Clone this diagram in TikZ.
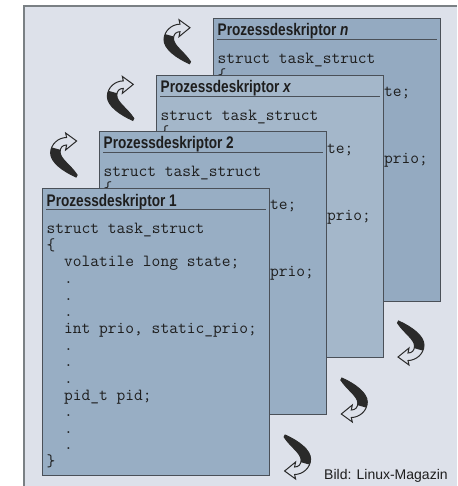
\documentclass[tikz,border=0pt]{standalone}
\usepackage{fontspec}
\usepackage{graphicx}
\usetikzlibrary{calc}
\newfontfamily\titlefont{Liberation Sans}
\newfontfamily\capfont{Liberation Sans}
\definecolor{bgc}{HTML}{DDE1EA}
\definecolor{framec}{HTML}{7A8084}
\definecolor{boxA}{HTML}{98AEC4}
\definecolor{boxB}{HTML}{98AEC4}
\definecolor{boxX}{HTML}{A4B7CA}
\definecolor{boxN}{HTML}{94AAC1}
\definecolor{boxborder}{HTML}{4A5058}
\definecolor{textdark}{HTML}{1E1E1E}
\definecolor{arrowdark}{HTML}{2A2A2A}
\tikzset{
  descbox/.style={draw=boxborder, line width=0.9pt, minimum width=226.5pt, inner sep=0pt, anchor=north west},
  titletext/.style={inner sep=0pt, anchor=base west, text=textdark, font=\titlefont\bfseries\fontsize{16.8}{18}\selectfont},
  titleline/.style={draw=boxborder, line width=0.9pt},
  codetext/.style={inner sep=0pt, anchor=base west, text=textdark, font=\ttfamily\fontsize{17}{17}\selectfont\frenchspacing},
  captext/.style={inner sep=0pt, anchor=base west, text=textdark, font=\capfont\fontsize{14}{16}\selectfont},
  turnarrow/.pic={
    \begin{scope}
      \clip (0,0) -- (-11,-8) -- (-10,-3.5) .. controls (-18,-3.5) and (-26,3) .. (-26,12)
        .. controls (-26,21) and (-14,30) .. (-0.5,36) -- (0.5,34)
        .. controls (-6,24) and (-16.5,18) .. (-16.5,11)
        .. controls (-16.5,6.5) and (-14,4) .. (-10,4) -- (-11,9) -- cycle;
      \fill[arrowdark] (-30,5) -- (-12,10) -- (10,45) -- (-30,45) -- cycle;
    \end{scope}
    \draw[arrowdark, line width=1pt, line join=miter]
      (0,0) -- (-11,-8) -- (-10,-3.5) .. controls (-18,-3.5) and (-26,3) .. (-26,12)
        .. controls (-26,21) and (-14,30) .. (-0.5,36) -- (0.5,34)
        .. controls (-6,24) and (-16.5,18) .. (-16.5,11)
        .. controls (-16.5,6.5) and (-14,4) .. (-10,4) -- (-11,9) -- cycle;
  }
}
\newcommand\drawdesc[6]{%
  \node[descbox, fill=#5, minimum height=#4pt] (#1) at (#2,#3) {};
  \node[titletext] (#1t) at ($(#1.north west)+(4.5,18)$) {\scalebox{0.81}[1]{#6}};
  \coordinate (#1ul) at ($(#1.north west)+(4,21)$);
  \coordinate (#1ur) at ($(#1.north east)+(-3,21)$);
  \draw[titleline] (#1ul) -- (#1ur);
  \foreach \ln [count=\i from 0] in {{struct task\_struct},{\{},{~~volatile long state;},
      {~~.},{~~.},{~~.},{~~int prio, static\_prio;},{~~.},{~~.},{~~.},
      {~~pid\_t pid;},{~~.},{~~.},{~~.},{\}}}{
    \node[codetext] (#1c\i) at ($(#1.north west)+(4.5,45.5+\i*16.65)$) {\ln};
  }
}
\begin{document}
\begin{tikzpicture}[x=1pt,y=-1pt]
  \useasboundingbox (0,0) rectangle (457,486);
  \fill[white] (0,0) rectangle (457,486);
  \fill[bgc] (24,6) rectangle (457,486);
  \draw[framec, line width=2pt] (24,486) -- (24,6) -- (457,6);

  % arrows upper left
  \pic (ua1) at (190,27.7) {turnarrow};
  \pic (ua2) at (133.3,84.4) {turnarrow};
  \pic (ua3) at (76.6,141) {turnarrow};
  % arrows lower right
  \pic[rotate=180] (la1) at (398,357) {turnarrow};
  \pic[rotate=180] (la2) at (341.3,414) {turnarrow};
  \pic[rotate=180] (la3) at (284.6,471) {turnarrow};

  \drawdesc{dn}{213}{18}{282.7}{boxN}{Prozessdeskriptor \textit{n}}
  \drawdesc{dx}{156}{75}{281.7}{boxX}{Prozessdeskriptor \textit{x}}
  \drawdesc{dz}{99}{131}{283}{boxB}{Prozessdeskriptor 2}
  \drawdesc{de}{42}{188}{287}{boxA}{Prozessdeskriptor 1}

  \node[captext] (credit) at (324,479) {Bild: Linux-Magazin};
\end{tikzpicture}
\end{document}
